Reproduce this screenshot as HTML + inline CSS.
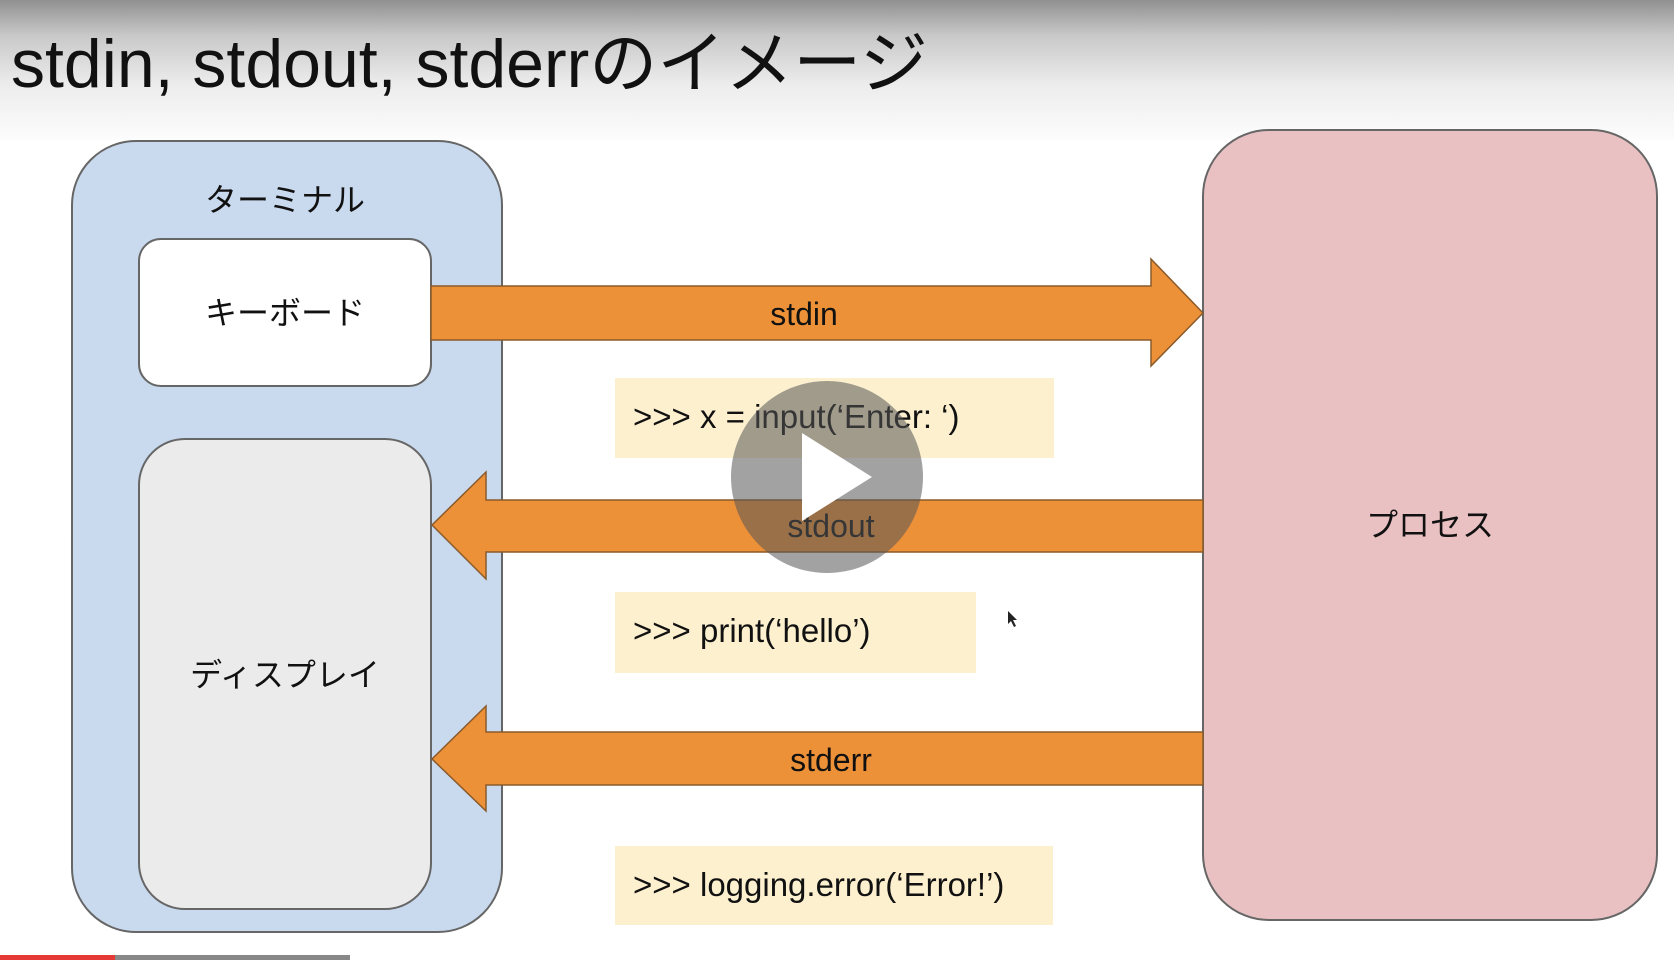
<!DOCTYPE html>
<html><head><meta charset="utf-8"><style>
body{margin:0;width:1674px;height:960px;overflow:hidden;background:#fff;font-family:"Liberation Sans","Noto Sans CJK JP",sans-serif;}
</style></head><body>
<svg width="1674" height="960" xmlns="http://www.w3.org/2000/svg" style="position:absolute;left:0;top:0">
<defs><linearGradient id="g" x1="0" y1="0" x2="0" y2="1">
<stop offset="0" stop-color="#909090"/><stop offset="0.25" stop-color="#c8c8c8"/><stop offset="0.6" stop-color="#ececec"/><stop offset="1" stop-color="#fdfdfd"/></linearGradient></defs>
<rect x="0" y="0" width="1674" height="140" fill="url(#g)"/>
<text x="11" y="87" font-size="68" fill="#111" font-family="Liberation Sans, Noto Sans CJK JP, sans-serif">stdin, stdout, stderrのイメージ</text>
<rect x="72" y="141" width="430" height="791" rx="64" fill="#c9daee" stroke="#666" stroke-width="2"/>
<text x="285" y="211" font-size="32" text-anchor="middle" fill="#111">ターミナル</text>
<rect x="139" y="239" width="292" height="147" rx="22" fill="#fff" stroke="#666" stroke-width="2"/>
<text x="285" y="324" font-size="32" text-anchor="middle" fill="#111">キーボード</text>
<rect x="139" y="439" width="292" height="470" rx="46" fill="#ebebeb" stroke="#666" stroke-width="2"/>
<text x="285" y="686" font-size="32" text-anchor="middle" fill="#111">ディスプレイ</text>
<rect x="1203" y="130" width="454" height="790" rx="66" fill="#eac1c3" stroke="#666" stroke-width="2"/>
<text x="1430" y="536" font-size="32" text-anchor="middle" fill="#111">プロセス</text>
<polygon points="431,286 1151,286 1151,259 1203,313 1151,366 1151,340 431,340" fill="#ed9138" stroke="#8a5a2a" stroke-width="1.5"/>
<text x="804" y="325" font-size="32" text-anchor="middle" fill="#111">stdin</text>
<polygon points="1203,500 486,500 486,472 432,525 486,579 486,552 1203,552" fill="#ed9138" stroke="#8a5a2a" stroke-width="1.5"/>
<text x="831" y="537" font-size="32" text-anchor="middle" fill="#111">stdout</text>
<polygon points="1203,732 486,732 486,706 432,759 486,811 486,785 1203,785" fill="#ed9138" stroke="#8a5a2a" stroke-width="1.5"/>
<text x="831" y="771" font-size="32" text-anchor="middle" fill="#111">stderr</text>
<rect x="615" y="378" width="439" height="80" fill="#fdf0cf"/>
<text x="633" y="428" font-size="33" fill="#111">&gt;&gt;&gt; x = input(‘Enter: ‘)</text>
<rect x="615" y="592" width="361" height="81" fill="#fdf0cf"/>
<text x="633" y="642" font-size="33" fill="#111">&gt;&gt;&gt; print(‘hello’)</text>
<rect x="615" y="846" width="438" height="79" fill="#fdf0cf"/>
<text x="633" y="896" font-size="33" fill="#111">&gt;&gt;&gt; logging.error(‘Error!’)</text>
<circle cx="827" cy="477" r="96" fill="#555" fill-opacity="0.55"/>
<polygon points="802,433 802,521 872,477" fill="#fff"/>
<polygon points="1008,611 1008,624 1011,621 1014,627 1016,626 1013,620 1017,620" fill="#222"/>
<rect x="0" y="955" width="350" height="5" fill="#888"/>
<rect x="0" y="955" width="115" height="5" fill="#e53935"/>
</svg>
</body></html>
